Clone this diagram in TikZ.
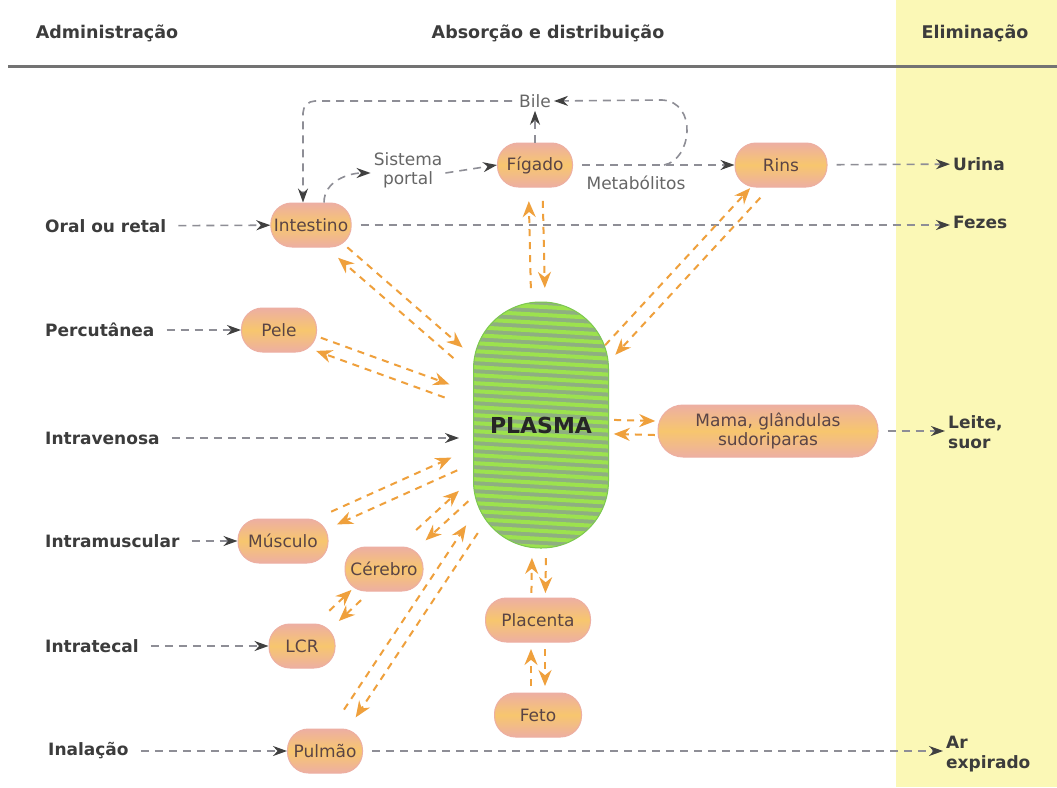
\documentclass[tikz,border=0pt]{standalone}
\usepackage{fontspec}
\setmainfont{DejaVu Sans}
\usetikzlibrary{calc, arrows.meta}

\definecolor{rosa}{HTML}{EDAFA2}
\definecolor{laranjaclaro}{HTML}{F7C66E}
\definecolor{seta}{HTML}{EFA03C}
\definecolor{tracejado}{HTML}{8E8E96}
\definecolor{amarelo}{HTML}{FBF8B6}
\definecolor{verde}{HTML}{7CC850}
\definecolor{verdeclaro}{HTML}{9CE24E}
\definecolor{verdecinza}{HTML}{8FAF80}
\definecolor{texto}{HTML}{3C3C3C}
\definecolor{textoorgao}{HTML}{5A4446}

\begin{document}
\begin{tikzpicture}[x=1pt, y=-1pt,
  orgao/.style={rounded corners=21pt, minimum height=44pt, draw=rosa, line width=1pt,
    top color=rosa, bottom color=rosa, middle color=laranjaclaro, text=textoorgao,
    font=\fontsize{17}{19}\selectfont, inner sep=3pt, align=center},
  via/.style={anchor=west, text=texto, font=\fontsize{17}{20}\selectfont\bfseries,
    align=left, inner sep=3pt},
  titulo/.style={text=texto, font=\fontsize{17.5}{20}\selectfont\bfseries},
  rotulo/.style={text=black!60, font=\fontsize{17}{19}\selectfont, align=center, inner sep=3pt},
  cinza/.style={draw=tracejado, line width=1.6pt, dash pattern=on 8pt off 6pt,
    -{Stealth[length=14pt, width=10pt, color=black!75]}, shorten <=9pt},
  laranja/.style={draw=seta, line width=2pt, dash pattern=on 7pt off 6pt,
    -{Stealth[length=16pt, width=13pt]}},
  plasmabox/.style={minimum width=135pt, minimum height=246pt, rounded corners=67pt,
    draw=verde, line width=1pt, fill=verdecinza, font=\fontsize{22}{24}\selectfont\bfseries,
    text=black!85,
    path picture={
      \foreach \k in {-3,...,36}
        \draw[verdeclaro, line width=4pt]
          ([shift={(-20,\k*8)}]path picture bounding box.north west) -- ++(180,10);
    }},
]
\useasboundingbox (0,0) rectangle (1057,787);
% Background
\fill[white] (0,0) rectangle (1057,787);
\fill[amarelo] (896,0) rectangle (1057,787);
\draw[black!55, line width=3pt] (8,66) -- (1057,66);
% Headings
\node[titulo] (adm) at (107,33) {Administração};
\node[titulo] (abs) at (548,33) {Absorção e distribuição};
\node[titulo] (eli) at (975,33) {Eliminação};
% Routes of administration
\node[via] (ora) at (42,226) {Oral ou retal};
\node[via] (per) at (42,330) {Percutânea};
\node[via] (iv)  at (42,438) {Intravenosa};
\node[via] (im)  at (42,541) {Intramuscular};
\node[via] (it)  at (42,646) {Intratecal};
\node[via] (ina) at (45,751) {Inalação};
% Elimination
\node[via] (uri) at (950,164) {Urina};
\node[via] (fez) at (950,222) {Fezes};
\node[via] (lei) at (945,432) {Leite,\\suor};
\node[via] (ar)  at (943,754) {Ar\\expirado};
% Organs
\node[plasmabox] (plasma) at (541,425) {PLASMA};
\node[orgao, minimum width=78pt] (int) at (311,225) {Intestino};
\node[orgao, minimum width=75pt] (pel) at (279,330) {Pele};
\node[orgao, minimum width=75pt] (fig) at (535,165) {Fígado};
\node[orgao, minimum width=92pt] (rin) at (781,165) {Rins};
\node[orgao, minimum width=220pt, minimum height=52pt, rounded corners=25pt, inner sep=2pt]
  (mam) at (768,431) {Mama, glândulas\\sudoriparas};
\node[orgao, minimum width=90pt] (mus) at (283,541) {Músculo};
\node[orgao, minimum width=78pt] (cer) at (384,569) {Cérebro};
\node[orgao, minimum width=66pt] (lcr) at (302,646) {LCR};
\node[orgao, minimum width=75pt] (pul) at (325,751) {Pulmão};
\node[orgao, minimum width=105pt] (pla) at (538,620) {Placenta};
\node[orgao, minimum width=87pt] (fet) at (538,715) {Feto};
% Labels
\node[rotulo] (bile) at (535,101) {Bile};
\node[rotulo] (sp) at (408,170) {Sistema\\portal};
\node[rotulo] (met) at (636,183) {Metabólitos};
\coordinate (m1) at (664,165);
% Grey connectors
\draw[cinza] (ora) -- (int);
\draw[cinza] (per) -- (pel);
\draw[cinza, shorten >=14pt] (iv) -- (iv -| plasma.west);
\draw[cinza] (im) -- (mus);
\draw[cinza] (it) -- (lcr);
\draw[cinza] (ina) -- (pul);
\draw[cinza] (int) -- (int -| fez.west);
\draw[cinza] (rin) -- (uri);
\draw[cinza] (mam) -- (mam -| lei.west);
\draw[cinza] (pul) -- (pul -| ar.west);
\draw[cinza, shorten <=0pt] ([xshift=13pt]int.north) to[out=90, in=180] ([yshift=-3pt]sp.west);
\draw[cinza, shorten <=0pt] ([yshift=-3pt]sp.east) -- (fig.west);
\draw[cinza] (fig) -- (rin);
\draw[cinza, shorten <=0pt] (fig.north) -- (bile);
\draw[cinza, shorten <=0pt] (m1) .. controls (692,160) and (698,102) .. (662,100) -- (bile.east);
\draw[cinza, rounded corners=12pt, shorten <=4pt] (bile.west) -| ([xshift=-8pt]int.north);
% Orange two-way connectors
\foreach \a/\b/\sa/\sb in {int/plasma/42/110, pel/plasma/42/100, fig/plasma/36/137,
    rin/plasma/38/102, mam/plasma/113/73, mus/plasma/56/95, cer/plasma/50/105,
    cer/lcr/38/44, pul/plasma/45/125, pla/plasma/27/133, fet/pla/29/29} {
  \draw[laranja, shorten <=\sa pt, shorten >=\sb pt] ($(\a)!7pt!90:(\b)$) -- ($(\b)!7pt!-90:(\a)$);
  \draw[laranja, shorten <=\sb pt, shorten >=\sa pt] ($(\b)!7pt!90:(\a)$) -- ($(\a)!7pt!-90:(\b)$);
}
\end{tikzpicture}
\end{document}
